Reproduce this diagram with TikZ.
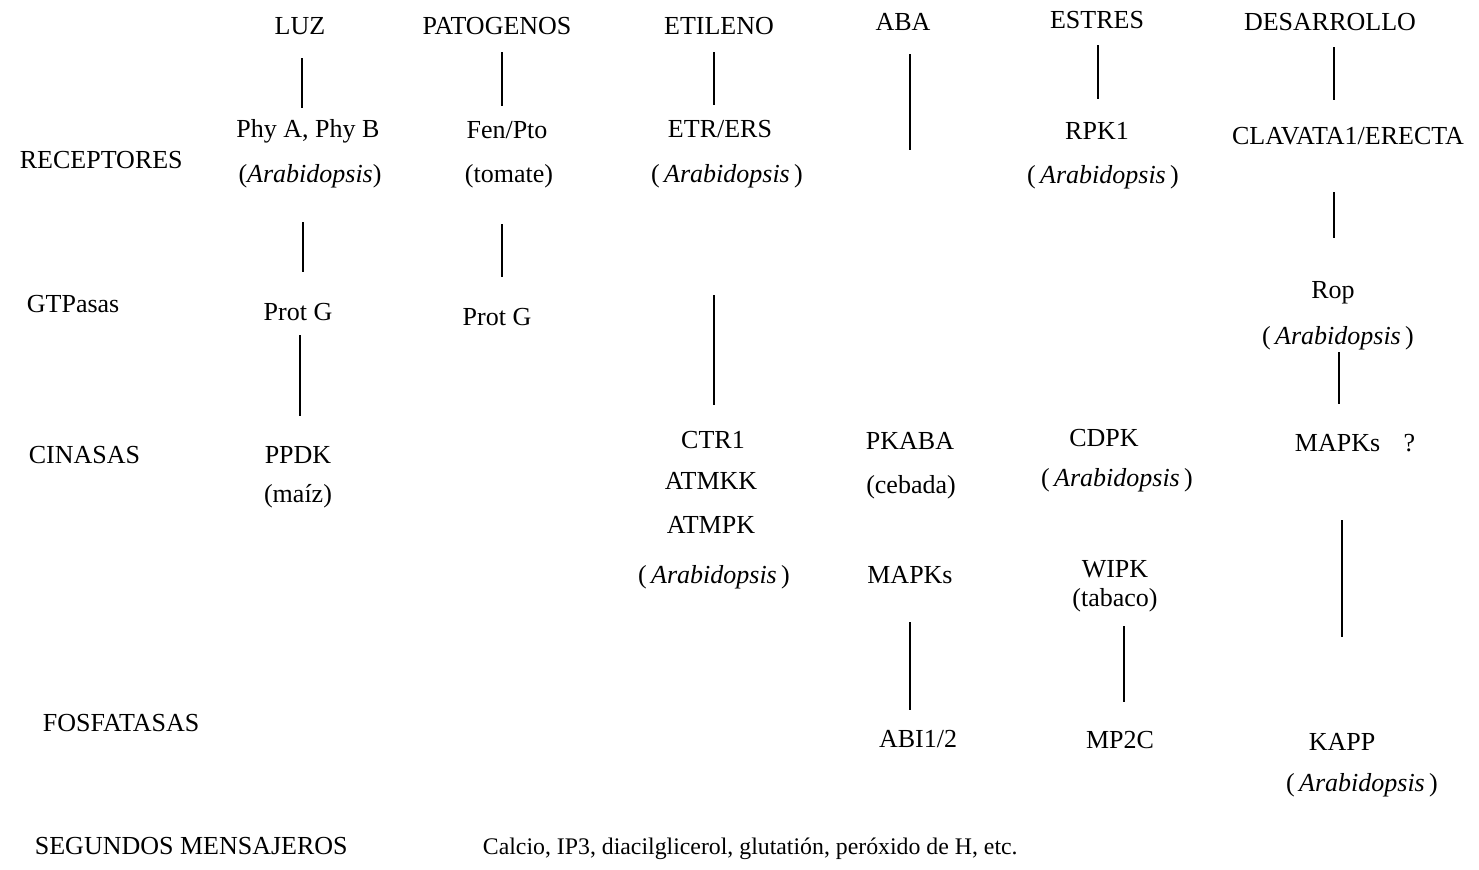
\documentclass[tikz,border=0pt]{standalone}
\usepackage{fontspec}
\setmainfont{Liberation Serif}
\usepackage{tikz}

\newcommand{\arab}{(\,\textit{Arabidopsis}\,)}

\begin{document}
\begin{tikzpicture}[x=0.5pt,y=0.5pt,yscale=-1,xscale=1,
	txt/.style={inner sep=0.75pt,font=\fontsize{13}{15}\selectfont},
	head/.style={txt,font=\fontsize{13}{15}\selectfont},
	rowlbl/.style={txt,anchor=west},
	lnk/.style={line width=1pt}]
	\useasboundingbox (0,0) rectangle (1479,869);
	
	% Row labels
	\node [rowlbl] (receptores) at (18,160) {RECEPTORES};
	\node [rowlbl] (gtpasas) at (25,304) {GTPasas};
	\node [rowlbl] (cinasas) at (27,455) {CINASAS};
	\node [rowlbl] (fosfatasas) at (41,723) {FOSFATASAS};
	\node [rowlbl] (segundos) at (33,846) {SEGUNDOS MENSAJEROS};
	\node [rowlbl,font=\fontsize{11.9}{14}\selectfont] (calcio) at (481,849) {Calcio, IP3, diacilglicerol, glutatión, peróxido de H, etc.};
	
	% Column heads
	\node [head] (luz) at (300,26) {LUZ};
	\node [head] (patogenos) at (497,26) {PATOGENOS};
	\node [head] (etileno) at (719,26) {ETILENO};
	\node [head] (aba) at (903,22) {ABA};
	\node [head] (estres) at (1097,20) {ESTRES};
	\node [head] (desarrollo) at (1330,22) {DESARROLLO};
	
	% Receptores
	\node [txt] (phy) at (308,131) {Phy A, Phy B};
	\node [txt] (phyorg) at (310,176) {(\textit{Arabidopsis})};
	\node [txt] (fen) at (507,130) {Fen/Pto};
	\node [txt] (fenorg) at (509,176) {(tomate)};
	\node [txt] (etr) at (720,129) {ETR/ERS};
	\node [txt] (etrorg) at (727,176) {\arab};
	\node [txt] (rpk) at (1097,131) {RPK1};
	\node [txt] (rpkorg) at (1103,177) {\arab};
	\node [txt] (clavata) at (1348,136) {CLAVATA1/ERECTA};
	
	% GTPasas
	\node [txt] (protg) at (298,312) {Prot G};
	\node [txt] (protgb) at (497,317) {Prot G};
	\node [txt] (rop) at (1333,293) {Rop};
	\node [txt] (roporg) at (1338,338) {\arab};
	
	% Cinasas
	\node [txt] (ppdk) at (298,455) {PPDK};
	\node [txt] (ppdkorg) at (298,496) {(maíz)};
	\node [txt] (ctr) at (713,440) {CTR1};
	\node [txt] (atmkk) at (711,481) {ATMKK};
	\node [txt] (atmpk) at (711,525) {ATMPK};
	\node [txt] (ctrorg) at (714,577) {\arab};
	\node [txt] (pkaba) at (910,441) {PKABA};
	\node [txt] (pkabaorg) at (911,487) {(cebada)};
	\node [txt] (mapksaba) at (910,575) {MAPKs};
	\node [txt] (cdpk) at (1104,438) {CDPK};
	\node [txt] (cdpkorg) at (1117,480) {\arab};
	\node [txt] (wipk) at (1115,569) {WIPK};
	\node [txt] (wipkorg) at (1115,600) {(tabaco)};
	\node [txt] (mapksq) at (1355,443) {MAPKs\hspace{0.9em}?};
	
	% Fosfatasas
	\node [txt] (abi) at (918,739) {ABI1/2};
	\node [txt] (mp2c) at (1120,740) {MP2C};
	\node [txt] (kapp) at (1342,742) {KAPP};
	\node [txt] (kapporg) at (1362,785) {\arab};
	
	% Line ends
	\coordinate (luzA) at (302,58);   \coordinate (luzB) at (302,108);
	\coordinate (luzC) at (303,222);  \coordinate (luzD) at (303,272);
	\coordinate (luzE) at (300,335);  \coordinate (luzF) at (300,416);
	\coordinate (patA) at (502,52);   \coordinate (patB) at (502,106);
	\coordinate (patC) at (502,224);  \coordinate (patD) at (502,277);
	\coordinate (etiA) at (714,52);   \coordinate (etiB) at (714,105);
	\coordinate (etiC) at (714,295);  \coordinate (etiD) at (714,405);
	\coordinate (abaA) at (910,54);   \coordinate (abaB) at (910,150);
	\coordinate (abaC) at (910,622);  \coordinate (abaD) at (910,710);
	\coordinate (estA) at (1098,45);  \coordinate (estB) at (1098,99);
	\coordinate (estC) at (1124,626); \coordinate (estD) at (1124,702);
	\coordinate (desA) at (1334,47);  \coordinate (desB) at (1334,100);
	\coordinate (desC) at (1334,192); \coordinate (desD) at (1334,238);
	\coordinate (desE) at (1339,352); \coordinate (desF) at (1339,404);
	\coordinate (desG) at (1342,520); \coordinate (desH) at (1342,637);
	
	%Straight Lines
	\draw [lnk] (luzA) -- (luzB);
	\draw [lnk] (luzC) -- (luzD);
	\draw [lnk] (luzE) -- (luzF);
	\draw [lnk] (patA) -- (patB);
	\draw [lnk] (patC) -- (patD);
	\draw [lnk] (etiA) -- (etiB);
	\draw [lnk] (etiC) -- (etiD);
	\draw [lnk] (abaA) -- (abaB);
	\draw [lnk] (abaC) -- (abaD);
	\draw [lnk] (estA) -- (estB);
	\draw [lnk] (estC) -- (estD);
	\draw [lnk] (desA) -- (desB);
	\draw [lnk] (desC) -- (desD);
	\draw [lnk] (desE) -- (desF);
	\draw [lnk] (desG) -- (desH);
\end{tikzpicture}
\end{document}
